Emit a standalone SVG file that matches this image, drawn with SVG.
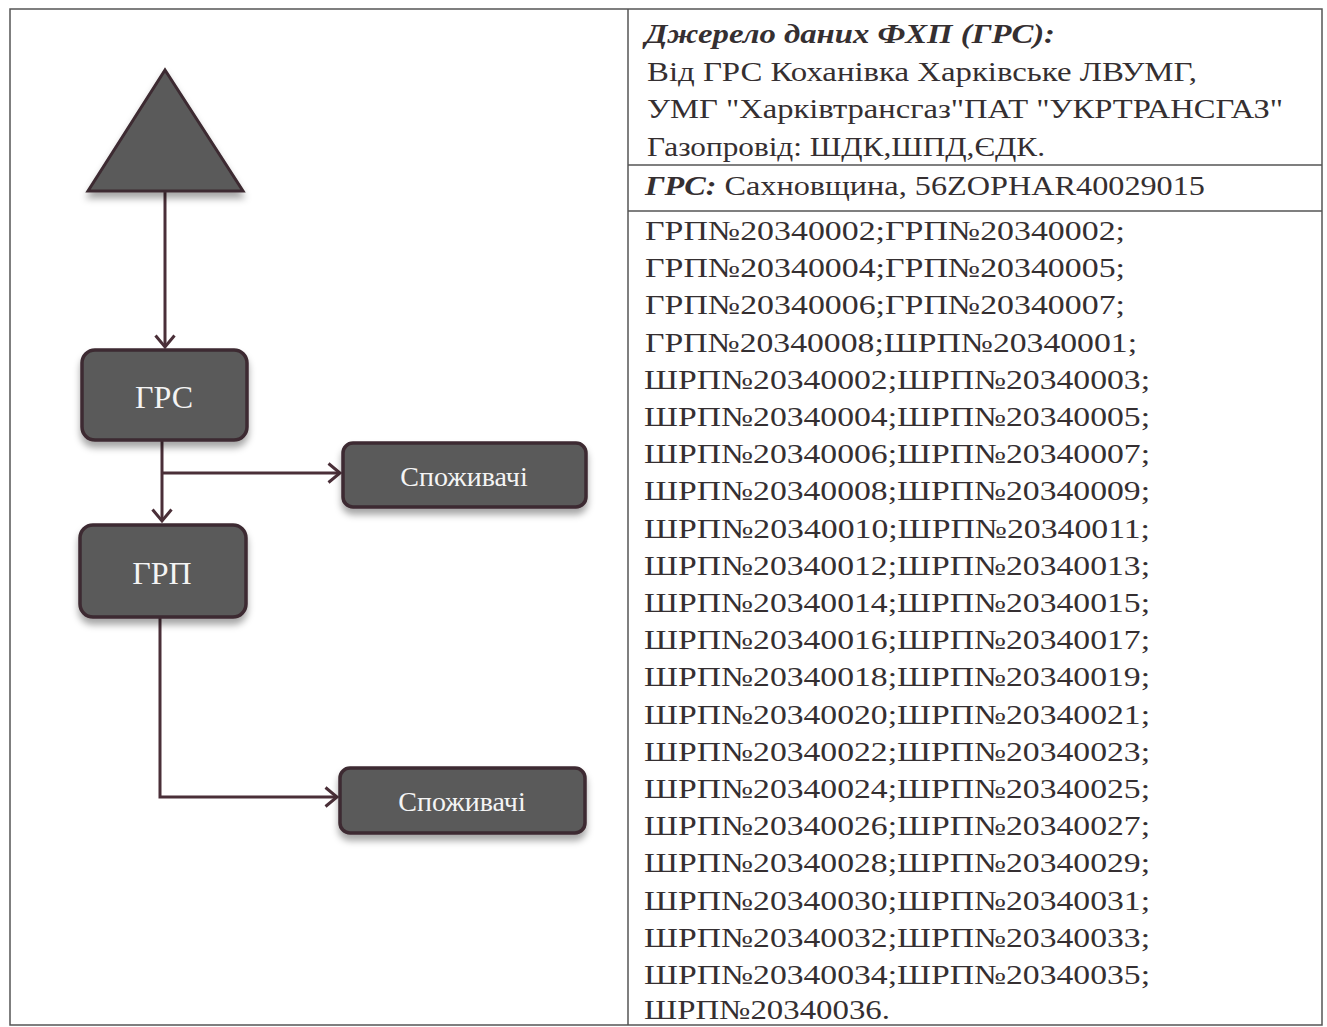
<svg xmlns="http://www.w3.org/2000/svg" width="1327" height="1027" viewBox="0 0 1327 1027">
<style>
.frame{fill:none;stroke:#555;stroke-width:1.5}
.box{fill:#5a5a5a;stroke:#3c2a30;stroke-width:3.5}
.lbl{font-family:"Liberation Serif",serif;fill:#f4f4f4;text-anchor:middle;dominant-baseline:central}
.conn{fill:none;stroke:#4a2f38;stroke-width:3}
.t{font-family:"Liberation Serif",serif;font-size:28px;fill:#352f31}
.bi{font-weight:bold;font-style:italic}
</style>
<defs>
<marker id="arr" markerWidth="16" markerHeight="22" refX="13" refY="11" orient="auto" markerUnits="userSpaceOnUse">
<path d="M1.5,1.5 L13,11 L1.5,20.5" fill="none" stroke="#4a2f38" stroke-width="3"/>
</marker>
<filter id="sh" x="-10%" y="-10%" width="120%" height="150%">
<feDropShadow dx="0" dy="6" stdDeviation="3.5" flood-color="#000" flood-opacity="0.35"/>
</filter>
</defs>
<rect width="1327" height="1027" fill="#fff"/>
<g id="frame">
<rect class="frame" x="10" y="9" width="1312" height="1016"/>
<line class="frame" x1="628" y1="9" x2="628" y2="1025"/>
<line class="frame" x1="628" y1="165" x2="1322" y2="165"/>
<line class="frame" x1="628" y1="211" x2="1322" y2="211"/>
</g>
<g id="connectors">
<line class="conn" x1="165" y1="192" x2="165" y2="347" marker-end="url(#arr)"/>
<line class="conn" x1="162" y1="441" x2="162" y2="521" marker-end="url(#arr)"/>
<line class="conn" x1="162" y1="473" x2="340" y2="473" marker-end="url(#arr)"/>
<polyline class="conn" points="160,618 160,797 337,797" marker-end="url(#arr)"/>
</g>
<g id="source">
<polygon points="165,70 88,191 243,191" fill="#5a5a5a" stroke="#3c2a30" stroke-width="3" filter="url(#sh)"/>
</g>
<g id="grs">
<rect class="box" x="82" y="350" width="165" height="90" rx="13" filter="url(#sh)"/>
<text class="lbl" x="164" y="397" font-size="32">ГРС</text>
</g>
<g id="consumers1">
<rect class="box" x="343" y="443" width="243" height="64" rx="10" filter="url(#sh)"/>
<text class="lbl" x="464" y="476" font-size="28">Споживачі</text>
</g>
<g id="grp">
<rect class="box" x="80" y="525" width="166" height="92" rx="13" filter="url(#sh)"/>
<text class="lbl" x="162" y="573" font-size="32">ГРП</text>
</g>
<g id="consumers2">
<rect class="box" x="340" y="768" width="245" height="65" rx="10" filter="url(#sh)"/>
<text class="lbl" x="462" y="801" font-size="28">Споживачі</text>
</g>
<g id="info">
<text class="t bi" x="645" y="43" textLength="410" lengthAdjust="spacingAndGlyphs">Джерело даних ФХП (ГРС):</text>
<text class="t" x="647" y="81" textLength="550" lengthAdjust="spacingAndGlyphs">Від ГРС Коханівка Харківське ЛВУМГ,</text>
<text class="t" x="647" y="118" textLength="636" lengthAdjust="spacingAndGlyphs">УМГ "Харківтрансгаз"ПАТ "УКРТРАНСГАЗ"</text>
<text class="t" x="647" y="156" textLength="398" lengthAdjust="spacingAndGlyphs">Газопровід: ШДК,ШПД,ЄДК.</text>
<text class="t" x="645" y="195" textLength="560" lengthAdjust="spacingAndGlyphs"><tspan class="bi">ГРС:</tspan> Сахновщина, 56ZOPHAR40029015</text>
</g>
<g id="list" class="t">
<text x="645" y="240" textLength="480" lengthAdjust="spacingAndGlyphs">ГРП№20340002;ГРП№20340002;</text>
<text x="645" y="277" textLength="480" lengthAdjust="spacingAndGlyphs">ГРП№20340004;ГРП№20340005;</text>
<text x="645" y="314" textLength="480" lengthAdjust="spacingAndGlyphs">ГРП№20340006;ГРП№20340007;</text>
<text x="645" y="352" textLength="492" lengthAdjust="spacingAndGlyphs">ГРП№20340008;ШРП№20340001;</text>
<text x="644" y="389" textLength="506" lengthAdjust="spacingAndGlyphs">ШРП№20340002;ШРП№20340003;</text>
<text x="644" y="426" textLength="506" lengthAdjust="spacingAndGlyphs">ШРП№20340004;ШРП№20340005;</text>
<text x="644" y="463" textLength="506" lengthAdjust="spacingAndGlyphs">ШРП№20340006;ШРП№20340007;</text>
<text x="644" y="500" textLength="506" lengthAdjust="spacingAndGlyphs">ШРП№20340008;ШРП№20340009;</text>
<text x="644" y="538" textLength="506" lengthAdjust="spacingAndGlyphs">ШРП№20340010;ШРП№20340011;</text>
<text x="644" y="575" textLength="506" lengthAdjust="spacingAndGlyphs">ШРП№20340012;ШРП№20340013;</text>
<text x="644" y="612" textLength="506" lengthAdjust="spacingAndGlyphs">ШРП№20340014;ШРП№20340015;</text>
<text x="644" y="649" textLength="506" lengthAdjust="spacingAndGlyphs">ШРП№20340016;ШРП№20340017;</text>
<text x="644" y="686" textLength="506" lengthAdjust="spacingAndGlyphs">ШРП№20340018;ШРП№20340019;</text>
<text x="644" y="724" textLength="506" lengthAdjust="spacingAndGlyphs">ШРП№20340020;ШРП№20340021;</text>
<text x="644" y="761" textLength="506" lengthAdjust="spacingAndGlyphs">ШРП№20340022;ШРП№20340023;</text>
<text x="644" y="798" textLength="506" lengthAdjust="spacingAndGlyphs">ШРП№20340024;ШРП№20340025;</text>
<text x="644" y="835" textLength="506" lengthAdjust="spacingAndGlyphs">ШРП№20340026;ШРП№20340027;</text>
<text x="644" y="872" textLength="506" lengthAdjust="spacingAndGlyphs">ШРП№20340028;ШРП№20340029;</text>
<text x="644" y="910" textLength="506" lengthAdjust="spacingAndGlyphs">ШРП№20340030;ШРП№20340031;</text>
<text x="644" y="947" textLength="506" lengthAdjust="spacingAndGlyphs">ШРП№20340032;ШРП№20340033;</text>
<text x="644" y="984" textLength="506" lengthAdjust="spacingAndGlyphs">ШРП№20340034;ШРП№20340035;</text>
<text x="644" y="1019" textLength="246" lengthAdjust="spacingAndGlyphs">ШРП№20340036.</text>
</g>
</svg>
